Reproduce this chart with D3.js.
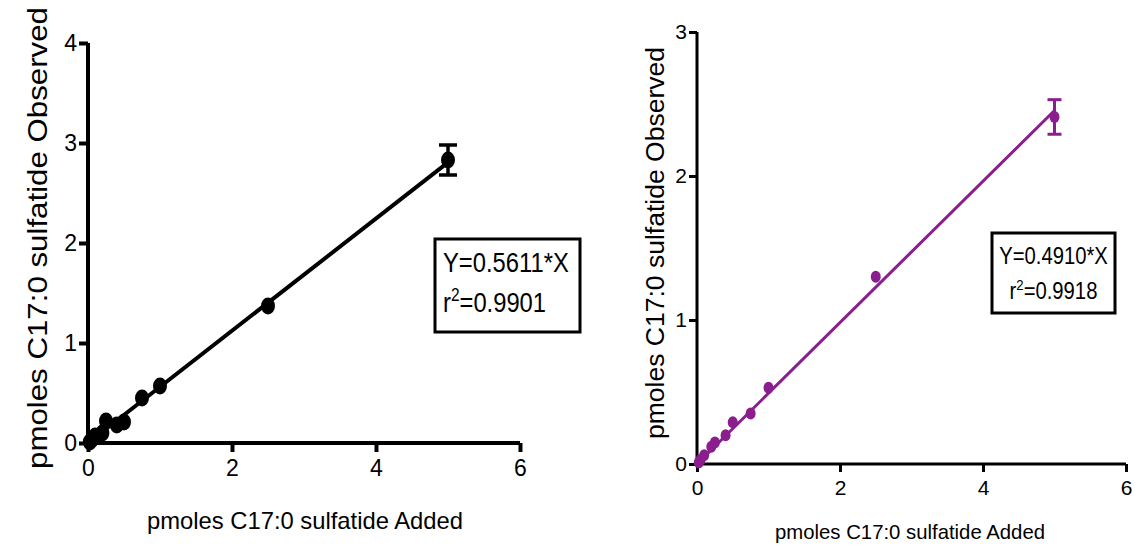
<!DOCTYPE html>
<html>
<head>
<meta charset="utf-8">
<script src="https://cdn.jsdelivr.net/npm/d3@7/dist/d3.min.js"></script>
<style>
  html, body { margin: 0; padding: 0; background: #fff; }
  svg { display: block; font-family: "Liberation Sans", Arial, sans-serif; }
</style>
</head>
<body>
<svg id="chart" width="1135" height="554"></svg>
<script>
// Standard curve: C17:0 sulfatide added vs observed (two runs)
const added = [0.025, 0.05, 0.1, 0.2, 0.25, 0.4, 0.5, 0.75, 1.0, 2.5, 5.0];

const observedA = [0.01, 0.03, 0.07, 0.1, 0.22, 0.18, 0.21, 0.45, 0.57, 1.37, 2.83];
const errorA    = [0, 0, 0, 0, 0, 0, 0, 0, 0, 0, 0.15];
const slopeA = 0.5611, r2A = 0.9901;

const observedB = [0.01, 0.03, 0.06, 0.12, 0.15, 0.2, 0.29, 0.35, 0.53, 1.30, 2.41];
const errorB    = [0, 0, 0, 0, 0, 0, 0, 0, 0, 0, 0.12];
const slopeB = 0.4910, r2B = 0.9918;

const xTicks = [0, 2, 4, 6];
const yTicksA = [0, 1, 2, 3, 4];
const yTicksB = [0, 1, 2, 3];

const xTitle = "pmoles C17:0 sulfatide Added";
const yTitle = "pmoles C17:0 sulfatide Observed";

const svg = d3.select("#chart");

// squeeze a text element horizontally to a narrower face
function narrow(sel, k) {
  sel.each(function () {
    const w = this.getComputedTextLength();
    d3.select(this).attr("textLength", w * k).attr("lengthAdjust", "spacingAndGlyphs");
  });
}

function panel(opt) {
  const g = svg.append("g");
  const x = d3.scaleLinear().domain([0, 6]).range(opt.xr);
  const y = d3.scaleLinear().domain([0, opt.yMax]).range(opt.yr);

  // axes
  const ax = g.append("g").attr("transform", `translate(0,${opt.yr[0]})`)
    .call(d3.axisBottom(x).tickValues(xTicks).tickFormat(d3.format("d"))
      .tickSize(opt.tick).tickSizeOuter(0).tickPadding(opt.xPad));
  const ay = g.append("g").attr("transform", `translate(${opt.xr[0]},0)`)
    .call(d3.axisLeft(y).tickValues(opt.yTicks).tickFormat(d3.format("d"))
      .tickSize(opt.tick).tickSizeOuter(0).tickPadding(2));
  [ax, ay].forEach(a => {
    a.select(".domain").attr("stroke", "#000").attr("stroke-width", opt.axisW);
    a.selectAll(".tick line").attr("stroke", "#000").attr("stroke-width", opt.axisW);
    a.selectAll(".tick text").attr("fill", "#000")
      .style("font-size", opt.tickFont + "px");
  });
  // extend axis lines slightly past the origin so the corner is closed
  ax.select(".domain").attr("d", `M${opt.xr[0] - opt.axisW}.5,0H${opt.xr[1]}`);
  ay.select(".domain").attr("d", `M0,${opt.yr[0] + opt.axisW / 2}V${opt.yr[1]}`);

  // fitted line through origin
  const line = d3.line().x(d => x(d)).y(d => y(d * opt.slope));
  g.append("path").datum([0, 5]).attr("d", line)
    .attr("fill", "none").attr("stroke", opt.color).attr("stroke-width", opt.lineW);

  const pts = added.map((a, i) => ({ x: a, y: opt.obs[i], e: opt.err[i] }));

  // error bars
  const eb = g.append("g").attr("stroke", opt.color).attr("stroke-width", opt.capW);
  pts.filter(d => d.e > 0).forEach(d => {
    eb.append("line").attr("x1", x(d.x)).attr("x2", x(d.x))
      .attr("y1", y(d.y - d.e)).attr("y2", y(d.y + d.e));
    [d.y - d.e, d.y + d.e].forEach(v => {
      eb.append("line").attr("x1", x(d.x) - opt.cap).attr("x2", x(d.x) + opt.cap)
        .attr("y1", y(v)).attr("y2", y(v));
    });
  });

  // points
  g.append("g").selectAll("ellipse").data(pts).join("ellipse")
    .attr("cx", d => x(d.x)).attr("cy", d => y(d.y))
    .attr("rx", opt.rx).attr("ry", opt.ry).attr("fill", opt.color);

  // axis titles
  g.append("text").attr("x", opt.xTitlePos[0]).attr("y", opt.xTitlePos[1])
    .attr("text-anchor", "middle").style("font-size", opt.xTitleFont + "px")
    .attr("textLength", opt.xTitleLen).attr("lengthAdjust", "spacingAndGlyphs").text(xTitle);
  g.append("text")
    .attr("transform", `translate(${opt.yTitlePos[0]},${opt.yTitlePos[1]}) rotate(-90)`)
    .attr("text-anchor", "middle").style("font-size", opt.yTitleFont + "px")
    .attr("textLength", opt.yTitleLen).attr("lengthAdjust", "spacingAndGlyphs").text(yTitle);

  // equation box
  const b = opt.box;
  g.append("rect").attr("x", b.x).attr("y", b.y).attr("width", b.w).attr("height", b.h)
    .attr("fill", "#fff").attr("stroke", "#000").attr("stroke-width", 3);
  const anchor = b.align === "middle" ? "middle" : "start";
  const tx = b.align === "middle" ? b.x + b.w / 2 : b.x + 8;
  const t1 = g.append("text").attr("x", tx).attr("y", b.l1).attr("text-anchor", anchor)
    .style("font-size", b.font + "px").text(`Y=${opt.slope.toFixed(4)}*X`);
  const t2 = g.append("text").attr("x", tx).attr("y", b.l2).attr("text-anchor", anchor)
    .style("font-size", b.font + "px");
  t2.append("tspan").text("r");
  t2.append("tspan").attr("dy", -b.font * 0.4).style("font-size", (b.font * 0.65) + "px").text("2");
  t2.append("tspan").attr("dy", b.font * 0.4).text(`=${opt.r2.toFixed(4)}`);
  narrow(t1, 0.88);
  narrow(t2, 0.88);
}

panel({
  xr: [88, 520], yr: [443, 43], yMax: 4, yTicks: yTicksA,
  obs: observedA, err: errorA, slope: slopeA, r2: r2A,
  color: "#000", axisW: 4, lineW: 4, capW: 3.5, cap: 9, rx: 7, ry: 8.5,
  tick: 9, tickFont: 23, xPad: 8,
  xTitlePos: [305, 529], xTitleFont: 24, xTitleLen: 316,
  yTitlePos: [47, 238], yTitleFont: 28, yTitleLen: 462,
  box: { x: 435, y: 239, w: 145, h: 93, font: 27, l1: 272, l2: 312, align: "start" }
});

panel({
  xr: [697, 1126], yr: [464, 32], yMax: 3, yTicks: yTicksB,
  obs: observedB, err: errorB, slope: slopeB, r2: r2B,
  color: "#8B1E8E", axisW: 3, lineW: 3, capW: 3, cap: 7, rx: 5, ry: 6,
  tick: 8, tickFont: 21, xPad: 8,
  xTitlePos: [910, 539], xTitleFont: 21, xTitleLen: 270,
  yTitlePos: [664, 243], yTitleFont: 25, yTitleLen: 392,
  box: { x: 992, y: 233, w: 123, h: 80, font: 23, l1: 264, l2: 299, align: "middle" }
});
</script>
</body>
</html>
